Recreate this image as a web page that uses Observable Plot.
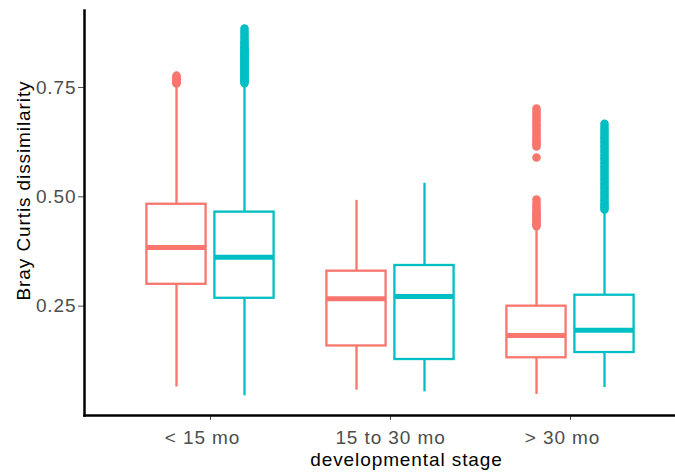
<!DOCTYPE html>
<html>
<head>
<meta charset="utf-8">
<script src="https://cdn.jsdelivr.net/npm/d3@7"></script>
<script src="https://cdn.jsdelivr.net/npm/@observablehq/plot@0.6"></script>
<style>
  html, body { margin: 0; padding: 0; background: #fff; overflow: hidden; }
  svg text { letter-spacing: 0.9px; }
</style>
</head>
<body>
<div id="chart"></div>
<script>
// ---- data ----
const stages = ["< 15 mo", "15 to 30 mo", "> 30 mo"];
const groups = ["group 1", "group 2"];
const colors = ["#F8766D", "#00BFC4"];
const yTicks = [0.25, 0.5, 0.75];

// box statistics per stage
const g1Lo  = [0.065, 0.058, 0.048];
const g1Q1  = [0.300, 0.159, 0.132];
const g1Med = [0.384, 0.267, 0.183];
const g1Q3  = [0.483, 0.330, 0.250];
const g1Hi  = [0.755, 0.492, 0.425];

const g2Lo  = [0.045, 0.054, 0.064];
const g2Q1  = [0.268, 0.128, 0.144];
const g2Med = [0.362, 0.272, 0.195];
const g2Q3  = [0.465, 0.343, 0.275];
const g2Hi  = [0.755, 0.531, 0.466];

// outliers per stage
const g1Out = [
  [0.759, 0.762, 0.765, 0.768, 0.771, 0.774, 0.777],
  [],
  [0.433, 0.437, 0.441, 0.445, 0.449, 0.453, 0.457, 0.461, 0.465, 0.470, 0.475, 0.480, 0.486, 0.494,
   0.590,
   0.615, 0.620, 0.625, 0.630, 0.636, 0.642, 0.648, 0.654, 0.660, 0.666, 0.672, 0.678, 0.684, 0.690, 0.696, 0.702]
];
const g2Out = [
  [0.760, 0.763, 0.766, 0.769, 0.772, 0.775, 0.778, 0.781, 0.784, 0.787, 0.790, 0.793, 0.796, 0.799,
   0.802, 0.805, 0.808, 0.811, 0.814, 0.817, 0.820, 0.823, 0.826, 0.829, 0.832, 0.835, 0.838, 0.842,
   0.846, 0.851, 0.855, 0.861, 0.866, 0.872, 0.878, 0.885],
  [],
  [0.471, 0.476, 0.481, 0.486, 0.492, 0.498, 0.504, 0.510, 0.516, 0.522, 0.528, 0.534, 0.540, 0.546,
   0.552, 0.558, 0.564, 0.570, 0.576, 0.582, 0.588, 0.594, 0.600, 0.606, 0.612, 0.618, 0.624, 0.630,
   0.636, 0.642, 0.648, 0.654, 0.660, 0.667]
];

const yTitle = "Bray Curtis dissimilarity";
const xTitle = "developmental stage";

// ---- tables built from the arrays ----
const stats = [
  {lo: g1Lo, q1: g1Q1, med: g1Med, q3: g1Q3, hi: g1Hi, out: g1Out},
  {lo: g2Lo, q1: g2Q1, med: g2Med, q3: g2Q3, hi: g2Hi, out: g2Out}
];
const boxes = [];
const points = [];
groups.forEach((g, gi) => {
  const s = stats[gi];
  stages.forEach((st, i) => {
    boxes.push({stage: st, group: g, lo: s.lo[i], q1: s.q1[i], med: s.med[i], q3: s.q3[i], hi: s.hi[i]});
    s.out[i].forEach(v => points.push({stage: st, group: g, value: v}));
  });
});

const marks = [];
groups.forEach((g, gi) => {
  const left = gi === 0;
  const inL = left ? 8.4 : 76.4;
  const inR = left ? 76.4 : 8.4;
  const dx = left ? -34 : 34;
  const b = boxes.filter(d => d.group === g);
  const p = points.filter(d => d.group === g);
  marks.push(
    Plot.ruleX(b, {x: "stage", y1: "lo", y2: "hi", stroke: "group", strokeWidth: 2.3, dx}),
    Plot.barY(b, {x: "stage", y1: "q1", y2: "q3", fill: "white", stroke: "group", strokeWidth: 2.3, insetLeft: inL, insetRight: inR}),
    Plot.tickY(b, {x: "stage", y: "med", stroke: "group", strokeWidth: 5, insetLeft: inL, insetRight: inR}),
    Plot.dot(p, {x: "stage", y: "value", fill: "group", r: 4.3, dx})
  );
});

const chart = Plot.plot({
  width: 675,
  height: 475,
  marginLeft: 84,
  marginRight: 0,
  marginTop: 10,
  marginBottom: 60,
  style: {fontFamily: "'Liberation Sans', Arial, Helvetica, sans-serif", fontSize: "19px", background: "white", color: "black"},
  x: {domain: stages, paddingInner: 0.2, paddingOuter: 0.2326, align: 0.62, axis: null},
  y: {domain: [0, 0.926], axis: null},
  color: {domain: groups, range: colors},
  marks: [
    ...marks,
    Plot.axisY({ticks: yTicks, tickFormat: ".2f", tickSize: 6, tickPadding: 2, color: "#4d4d4d", label: null}),
    Plot.axisX({tickSize: 5, tickPadding: 10, color: "#4d4d4d", label: null,
                tickFormat: d => d === stages[1] ? d : null}),
    Plot.axisX([stages[0], stages[2]], {tickSize: 0, tickPadding: 15, dx: -8, color: "#4d4d4d", label: null}),
    Plot.frame({anchor: "left", strokeWidth: 2.5, stroke: "black"}),
    Plot.frame({anchor: "bottom", strokeWidth: 2.5, stroke: "black"}),
    Plot.text([xTitle], {frameAnchor: "bottom", textAnchor: "middle", lineAnchor: "middle", dx: 26.5, dy: 44, fill: "black"}),
    Plot.text([yTitle], {frameAnchor: "left", textAnchor: "middle", lineAnchor: "middle", rotate: -90, dx: -61, dy: -22.5, fill: "black"})
  ]
});
document.getElementById("chart").appendChild(chart);
</script>
</body>
</html>
